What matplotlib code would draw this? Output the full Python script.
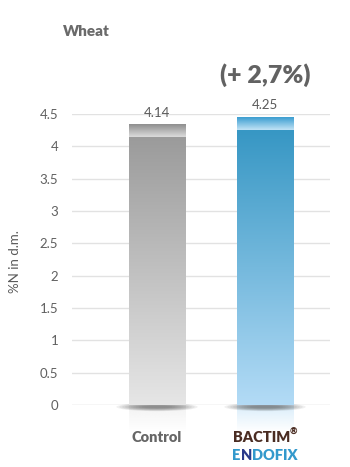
import numpy as np
import matplotlib
matplotlib.use("Agg")
import matplotlib.pyplot as plt
from matplotlib.patches import Rectangle, Polygon, Ellipse
from matplotlib.colors import LinearSegmentedColormap

plt.rcParams['font.family'] = ['Lato', 'DejaVu Sans']

categories = ["Control", "BACTIM® ENDOFIX"]
values = [4.14, 4.25]
value_labels = ["4.14", "4.25"]
yticks = [0, 0.5, 1, 1.5, 2, 2.5, 3, 3.5, 4, 4.5]
ytick_labels = ["0", "0.5", "1", "1.5", "2", "2.5", "3", "3.5", "4", "4.5"]
title = "Wheat"
delta_label = "(+ 2,7%)"
ylabel = "%N in d.m."

W, H = 350, 467
fig = plt.figure(figsize=(W/100, H/100), dpi=100)
ax = fig.add_axes([72/W, 1-405/H, (330-72)/W, (405-114)/H])
ax.set_xlim(-0.787, 1.602)
ax.set_ylim(0, 4.5)

for s in ax.spines.values():
    s.set_visible(False)
ax.set_xticks([])
ax.set_yticks(yticks)
ax.set_yticklabels(ytick_labels, fontsize=9.5, color='#606060')
ax.tick_params(axis='y', length=0, pad=10)
for t in yticks:
    ax.axhline(t, color='#e2e2e2' if t > 0 else '#d6d6d6', lw=1, zorder=0)

bar_w = 0.519
grads = [
    (['#9b9b9b', '#e6e6e6'], ['#8e8e8e', '#dcdcdc']),
    (['#3797c4', '#b3dbf6'], ['#3a9dd0', '#c2e3f6']),
]
cap_h = 0.19
inset = 0.042
grad = np.linspace(0, 1, 256).reshape(-1, 1)
for i, v in enumerate(values):
    x0 = i - bar_w/2
    body_cols, cap_cols = grads[i]
    cmap = LinearSegmentedColormap.from_list('b%d' % i, body_cols)
    rect = Rectangle((x0, 0), bar_w, v, fc='none', ec='none')
    ax.add_patch(rect)
    im = ax.imshow(grad, cmap=cmap, extent=(x0, x0+bar_w, 0, v), aspect='auto',
                   origin='upper', zorder=2, interpolation='bicubic')
    im.set_clip_path(rect)
    # cap (top face)
    cap = Polygon([(x0, v), (x0+bar_w, v), (x0+bar_w-inset, v+cap_h), (x0+inset, v+cap_h)],
                  closed=True, fc='none', ec='none', clip_on=False)
    ax.add_patch(cap)
    cmap2 = LinearSegmentedColormap.from_list('c%d' % i, cap_cols)
    im2 = ax.imshow(grad, cmap=cmap2, extent=(x0, x0+bar_w, v, v+cap_h), aspect='auto',
                    origin='upper', zorder=2, interpolation='bicubic', clip_on=False)
    im2.set_clip_path(cap)
    # reflection below baseline
    refl = Rectangle((x0, -0.42), bar_w, 0.42, fc='none', ec='none', clip_on=False)
    ax.add_patch(refl)
    rgrad = np.linspace(0, 1, 64).reshape(-1, 1)
    rgba = np.zeros((64, 1, 4))
    rgba[..., :3] = matplotlib.colors.to_rgb(body_cols[1])
    rgba[..., 3] = 0.5 * (1 - rgrad)
    im3 = ax.imshow(rgba, extent=(x0, x0+bar_w, -0.42, 0), aspect='auto', origin='upper',
                    zorder=1, clip_on=False)
    im3.set_clip_path(refl)
    # shadow at baseline
    for k in range(10):
        e = Ellipse((i, -0.03), bar_w*1.45*(1-k*0.07), 0.13*(1-k*0.08),
                    fc='#444444', ec='none', alpha=0.08, zorder=1.5, clip_on=False)
        ax.add_patch(e)
    ax.text(i, v + cap_h + 0.1, value_labels[i], ha='center', va='bottom',
            fontsize=9.5, color='#5a5a5a')

ax.set_ylim(0, 4.5)

fig.text(63/W, 1-32/H, title, fontsize=11, fontweight='heavy', color='#6a6a6a',
         ha='left', va='center')
ax.text(1, 4.25 + cap_h + 0.47, delta_label, ha='center', va='bottom',
        fontsize=18, fontweight='heavy', color='#626262')
fig.text(15/W, 1-262/H, ylabel, rotation=90, fontsize=9.5, color='#5a5a5a',
         ha='center', va='center')

# x labels
fig.text(157/W, 1-438/H, "Control", ha='center', va='center', fontsize=10.5,
         fontweight='heavy', color='#666666')
b1 = fig.text(0, 1-437/H, "BACTIM", ha='left', va='center', fontsize=10.5,
              fontweight='heavy', color='#4a2c22')
b2 = fig.text(0, 1-432/H, "®", ha='left', va='center', fontsize=6.5,
              fontweight='heavy', color='#4a2c22')
t1 = fig.text(0, 1-455/H, "E", ha='left', va='center', fontsize=10.5,
              fontweight='heavy', color='#3399cc')
t2 = fig.text(0, 1-455/H, "N", ha='left', va='center', fontsize=10.5,
              fontweight='heavy', color='#2a3a8a')
t3 = fig.text(0, 1-455/H, "DOFIX", ha='left', va='center', fontsize=10.5,
              fontweight='heavy', color='#3399cc')


def chain(texts, center_px):
    fig.canvas.draw()
    r = fig.canvas.get_renderer()
    widths = [t.get_window_extent(r).width for t in texts]
    total = sum(widths)
    x = center_px - total/2
    for t, w in zip(texts, widths):
        _, y = t.get_position()
        t.set_position((x/W, y))
        x += w


chain([b1, b2], 265)
chain([t1, t2, t3], 265)

fig.savefig("out.png", dpi=100)
